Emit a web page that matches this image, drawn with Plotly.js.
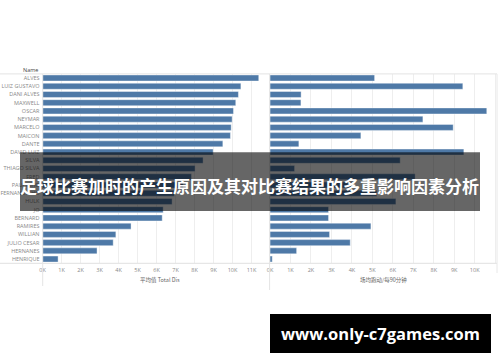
<!DOCTYPE html>
<html>
<head>
<meta charset="utf-8">
<script src="https://cdn.plot.ly/plotly-3.0.1.min.js"></script>
<style>
  html, body { margin: 0; padding: 0; background: #ffffff; }
  #chart { width: 500px; height: 362px; }
</style>
</head>
<body>
<div id="chart"></div>
<script>
// ---- data ----
const names = ["ALVES","LUIZ GUSTAVO","DANI ALVES","MAXWELL","OSCAR","NEYMAR","MARCELO","MAICON","DANTE","DAVID LUIZ","SILVA","THIAGO SILVA","FRED","PAULINHO","FERNANDINHO","HULK","JO","BERNARD","RAMIRES","WILLIAN","JULIO CESAR","HERNANES","HENRIQUE"];
const totalDistance = [11380,10440,10310,10170,10050,9980,9930,9890,9490,8980,8450,8030,7840,7410,6940,6820,6350,6300,4660,3860,3720,2870,820];
const distancePer90 = [5110,9420,1520,1510,10590,7470,8950,4440,1410,9470,6360,1200,7090,4000,5220,6150,2860,2860,4930,2910,3920,1300,110];
const tickValues = [0,1000,2000,3000,4000,5000,6000,7000,8000,9000,10000,11000];
const tickLabels = ["0K","1K","2K","3K","4K","5K","6K","7K","8K","9K","10K","11K"];
const leftAxisTitle = "平均值 Total Dis";
const rightAxisTitle = "场均跑动/每90分钟";
const headerLabel = "Name";
const bannerText = "足球比赛加时的产生原因及其对比赛结果的多重影响因素分析";
const siteText = "www.only-c7games.com";

// ---- helpers (pixel -> paper) ----
const W = 500, H = 362;
const px = x => x / W;
const py = y => 1 - y / H;

const barColor = "#4e79a7";
const tickFont = {family: "Open Sans, Lato, sans-serif", size: 5.5, color: "#888888"};
const cjk = "Noto Sans CJK SC, Noto Sans, sans-serif";

const traces = [
  {type: "bar", orientation: "h", x: totalDistance, y: names, xaxis: "x", yaxis: "y",
   marker: {color: barColor, line: {color: "#ffffff", width: 0.4}}, hoverinfo: "skip"},
  {type: "bar", orientation: "h", x: distancePer90, y: names, xaxis: "x2", yaxis: "y2",
   marker: {color: barColor, line: {color: "#ffffff", width: 0.4}}, hoverinfo: "skip"}
];

const yDomain = [py(263.2), py(73.9)];
const commonX = {
  tickvals: tickValues, ticktext: tickLabels, tickfont: tickFont,
  showgrid: true, gridcolor: "#eeeeee", gridwidth: 1,
  zeroline: false, showline: false, ticks: "", fixedrange: true,
  ticklabelstandoff: 2
};

const layout = {
  width: W, height: H,
  margin: {l: 0, r: 0, t: 0, b: 0},
  paper_bgcolor: "#ffffff", plot_bgcolor: "#ffffff",
  showlegend: false,
  bargap: 0.27,
  xaxis: Object.assign({}, commonX, {domain: [px(42.5), px(269)], range: [0, 11920], anchor: "y"}),
  xaxis2: Object.assign({}, commonX, {domain: [px(270), px(497)], range: [0, 11090], anchor: "y2"}),
  yaxis: {domain: yDomain, type: "category", categoryorder: "array", categoryarray: names,
          range: [names.length - 0.5, -0.5], tickfont: tickFont, ticks: "", showgrid: false,
          zeroline: false, showline: false, anchor: "x", ticklabelstandoff: 2, fixedrange: true},
  yaxis2: {domain: yDomain, type: "category", categoryorder: "array", categoryarray: names,
           range: [names.length - 0.5, -0.5], showticklabels: false, ticks: "", showgrid: false,
           zeroline: false, showline: false, anchor: "x2", fixedrange: true},
  shapes: [
    // header / axis horizontal rules
    {type: "line", xref: "paper", yref: "paper", x0: 0, x1: px(497), y0: py(73.9), y1: py(73.9), line: {color: "#e4e4e4", width: 1}},
    {type: "line", xref: "paper", yref: "paper", x0: 0, x1: px(497), y0: py(263.3), y1: py(263.3), line: {color: "#e0e0e0", width: 1}},
    // panel vertical rules
    {type: "line", xref: "paper", yref: "paper", x0: px(42.7), x1: px(42.7), y0: py(73.9), y1: py(286), line: {color: "#e4e4e4", width: 1}},
    {type: "line", xref: "paper", yref: "paper", x0: px(269.6), x1: px(269.6), y0: py(73.9), y1: py(290), line: {color: "#e4e4e4", width: 1}},
    {type: "line", xref: "paper", yref: "paper", x0: px(497), x1: px(497), y0: py(73.9), y1: py(273), line: {color: "#e8e8e8", width: 1}},
    // dark banner
    {type: "rect", xref: "paper", yref: "paper", x0: px(20), x1: px(480), y0: py(211), y1: py(152.3),
     fillcolor: "rgba(0,0,0,0.6)", line: {width: 0}, layer: "above"},
    // black site box
    {type: "rect", xref: "paper", yref: "paper", x0: px(270), x1: px(491), y0: py(353), y1: py(314),
     fillcolor: "#000000", line: {width: 0}, layer: "above"}
  ],
  annotations: [
    {text: headerLabel, xref: "paper", yref: "paper", x: px(40), y: py(69.5), xanchor: "right", yanchor: "middle",
     showarrow: false, font: {family: "Open Sans, sans-serif", size: 5.5, color: "#444444"}},
    {text: leftAxisTitle, xref: "paper", yref: "paper", x: px(160), y: py(279.5), xanchor: "center", yanchor: "middle",
     showarrow: false, font: {family: cjk, size: 5.5, color: "#666666"}},
    {text: rightAxisTitle, xref: "paper", yref: "paper", x: px(383.7), y: py(279.5), xanchor: "center", yanchor: "middle",
     showarrow: false, font: {family: cjk, size: 5.5, color: "#666666"}},
    {text: "<b>" + bannerText + "</b>", xref: "paper", yref: "paper", x: px(249.5), y: py(185), xanchor: "center", yanchor: "middle",
     showarrow: false, font: {family: cjk, size: 17, color: "#ffffff"}},
    {text: "<b>" + siteText + "</b>", xref: "paper", yref: "paper", x: px(380), y: py(333.5), xanchor: "center", yanchor: "middle",
     showarrow: false, font: {family: "Open Sans, DejaVu Sans, sans-serif", size: 16.5, color: "#ffffff"}}
  ]
};

Plotly.newPlot("chart", traces, layout, {displayModeBar: false, staticPlot: true});
</script>
</body>
</html>
